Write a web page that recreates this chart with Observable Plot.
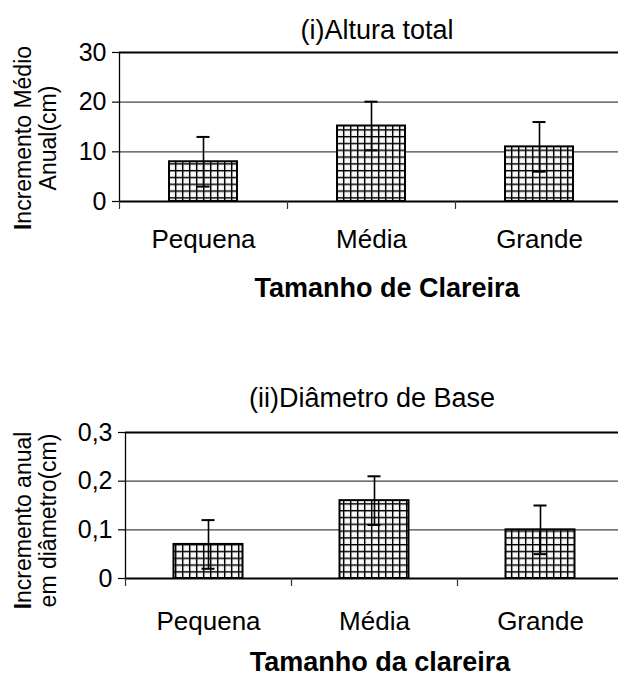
<!DOCTYPE html>
<html><head><meta charset="utf-8">
<script src="https://cdn.jsdelivr.net/npm/d3@7"></script>
<script src="https://cdn.jsdelivr.net/npm/@observablehq/plot@0.6"></script>
<style>body{margin:0;background:#fff} svg{display:block}</style>
</head><body><div id="c"></div>
<script>
const categorias = ["Pequena", "Média", "Grande"];
const alturaMedia = [8, 15.2, 11];
const alturaErro = [5, 4.9, 5];
const alturaTicks = [0, 10, 20, 30];
const diametroMedia = [0.07, 0.16, 0.10];
const diametroErro = [0.05, 0.05, 0.05];
const diametroTicks = [0, 0.1, 0.2, 0.3];

const FONT = "Liberation Sans, Arial, sans-serif";

function painel(o) {
  const data = categorias.map((c, i) => ({c, i, m: o.media[i], e: o.erro[i]}));
  const top = o.ticks[o.ticks.length - 1];
  const svg = Plot.plot({
    width: 618, height: o.h,
    marginLeft: o.left, marginRight: 0, marginTop: o.yTop, marginBottom: o.h - o.y0,
    style: {fontFamily: FONT, color: "#000", background: "#fff", overflow: "visible"},
    x: {domain: [0, 3], range: [o.left, o.left + 3 * o.band], label: null},
    y: {domain: [0, top], range: [o.y0, o.yTop], label: null},
    marks: [
      Plot.ruleY(o.ticks.slice(1, -1), {stroke: "#444", strokeWidth: 1.3}),
      Plot.ruleY([top], {stroke: "#000", strokeWidth: 2.2}),
      Plot.rectY(data, {x1: d => d.i, x2: d => d.i + 1, y1: 0, y2: "m",
        fill: `url(#${o.pid})`, stroke: "#000", strokeWidth: 2,
        insetLeft: o.inset, insetRight: o.inset}),
      Plot.ruleX(data, {x: d => d.i + 0.5, y1: d => d.m - d.e, y2: d => d.m + d.e, stroke: "#000", strokeWidth: 1.6}),
      Plot.ruleY(data, {y: d => d.m + d.e, x1: d => d.i + 0.5, x2: d => d.i + 0.5, insetLeft: -6.5, insetRight: -6.5, stroke: "#000", strokeWidth: 2}),
      Plot.ruleY(data, {y: d => d.m - d.e, x1: d => d.i + 0.5, x2: d => d.i + 0.5, insetLeft: -6.5, insetRight: -6.5, stroke: "#000", strokeWidth: 2}),
      Plot.ruleY([0], {stroke: "#000", strokeWidth: 2.2}),
      Plot.ruleX([0], {y1: 0, y2: top, stroke: "#000", strokeWidth: 1.3}),
      Plot.axisY(o.ticks, {label: null, tickSize: 7, tickPadding: 6, fontSize: 25, tickFormat: o.fmt, stroke: "#000", strokeWidth: 1.2}),
      Plot.axisX([0, 1, 2, 3], {label: null, tickSize: 8, tickFormat: () => "", stroke: "#333", strokeWidth: 1.2}),
      Plot.axisX([0.5, 1.5, 2.5], {label: null, tickSize: 0, tickPadding: o.labelPad, fontSize: 26, tickFormat: v => categorias[Math.floor(v)]}),
      Plot.text([o.titulo], {frameAnchor: "top", textAnchor: "middle", lineAnchor: "middle", dx: o.tdx, dy: o.tdy, fontSize: 27, fill: "#000"}),
      Plot.text([o.tituloX], {frameAnchor: "bottom", textAnchor: "middle", lineAnchor: "middle", dx: o.xdx, dy: o.xdy, fontSize: 27, fontWeight: "bold", fill: "#000"}),
      Plot.text([o.tituloY], {frameAnchor: "left", textAnchor: "middle", lineAnchor: "middle", dx: o.ydx, dy: o.ydy, rotate: -90, fontSize: 23, lineHeight: 1.08, fill: "#000", className: "ytitle"})
    ]
  });
  svg.insertAdjacentHTML("afterbegin",
    `<defs><pattern id="${o.pid}" patternUnits="userSpaceOnUse" width="7" height="6.8">
      <rect width="7" height="6.8" fill="#eeeeee"/>
      <rect x="2.5" y="2.4" width="3" height="3" fill="#fff"/>
      <line x1="0.7" y1="0" x2="0.7" y2="6.8" stroke="#000" stroke-width="1.4"/>
      <line x1="0" y1="0.7" x2="7" y2="0.7" stroke="#000" stroke-width="1.4"/>
    </pattern></defs>`);
  // first letter of the y title appears bold in the reference
  const ts = svg.querySelector(".ytitle text tspan") || null;
  if (ts && ts.textContent.startsWith("I")) {
    const rest = ts.textContent.slice(1);
    ts.textContent = "";
    const b = document.createElementNS("http://www.w3.org/2000/svg", "tspan");
    b.setAttribute("font-weight", "bold");
    b.textContent = "I";
    ts.appendChild(b);
    ts.appendChild(document.createTextNode(rest));
  }
  return svg;
}

const c = document.getElementById("c");
c.appendChild(painel({
  media: alturaMedia, erro: alturaErro, ticks: alturaTicks, fmt: d => String(d),
  titulo: "(i)Altura total", tituloX: "Tamanho de Clareira", tituloY: "Incremento Médio\nAnual(cm)",
  pid: "pat1", h: 340, left: 119, band: 168, inset: 50, y0: 201, yTop: 52, labelPad: 28,
  tdx: 8, tdy: -22, xdx: 18, xdy: 87, ydx: -84, ydy: 11
}));
c.appendChild(painel({
  media: diametroMedia, erro: diametroErro, ticks: diametroTicks, fmt: d => d === 0 ? "0" : String(d).replace(".", ","),
  titulo: "(ii)Diâmetro de Base", tituloX: "Tamanho da clareira", tituloY: "Incremento anual\nem diâmetro(cm)",
  pid: "pat2", h: 337, left: 125, band: 166, inset: 48.5, y0: 238, yTop: 92, labelPad: 33,
  tdx: 0, tdy: -34, xdx: 8, xdy: 84, ydx: -90, ydy: 15
}));
</script></body></html>
